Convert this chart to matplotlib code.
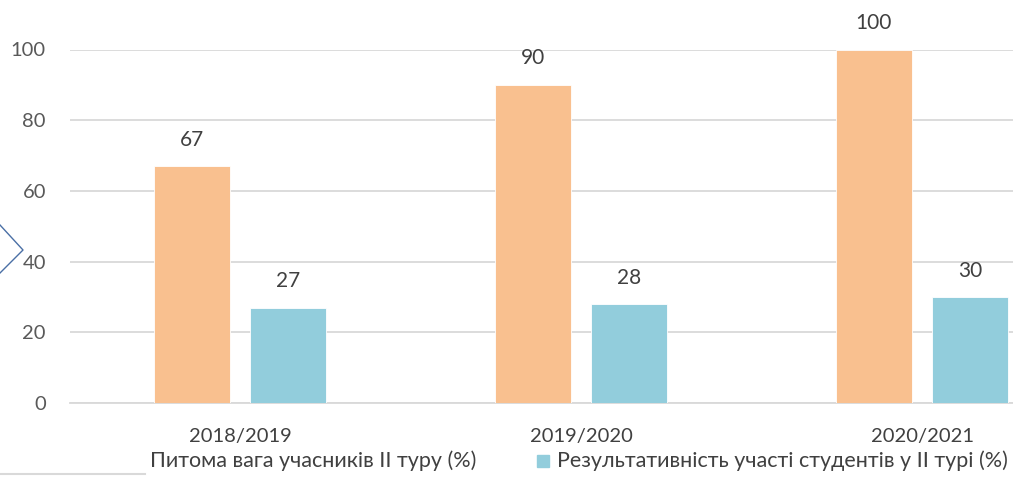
import numpy as np
import matplotlib
matplotlib.use("Agg")
import matplotlib.pyplot as plt
from matplotlib.lines import Line2D
from matplotlib.patches import Rectangle

years = ['2018/2019', '2019/2020', '2020/2021']
share = [67, 90, 100]
result = [27, 28, 30]
label_share = 'Питома вага учасників ІІ туру (%)'
label_result = 'Результативність участі студентів у ІІ турі (%)'

c_orange = '#F9C08F'
c_blue = '#92CDDC'
txt = '#404040'

plt.rcParams['font.family'] = ['Lato', 'DejaVu Sans']

W, H = 1013, 500
fig = plt.figure(figsize=(W / 100, H / 100), dpi=100)
# axes runs off the right edge like the cropped original
ax = fig.add_axes([69.5 / W, 97 / H, 3 * 341 / W, 353.5 / H])

x = np.arange(len(years))
w = 0.223
off = 0.141
b1 = ax.bar(x - off, share, w, color=c_orange, edgecolor='white', linewidth=0.6, zorder=3)
b2 = ax.bar(x + off, result, w, color=c_blue, edgecolor='white', linewidth=0.6, zorder=3)

for bars, vals in ((b1, share), (b2, result)):
    for r, v in zip(bars, vals):
        ax.annotate(str(v), (r.get_x() + r.get_width() / 2, v), xytext=(0, 19),
                    textcoords='offset points', ha='center', va='center',
                    fontsize=15, color=txt, annotation_clip=False)

ax.set_xlim(-0.5, 2.5)
ax.set_ylim(0, 100)
ax.set_yticks(range(0, 101, 20))
ax.set_xticks(x)
ax.set_xticklabels(years)
ax.yaxis.grid(True, color='#D9D9D9', linewidth=1.3, zorder=0)
for s in ('top', 'right', 'left'):
    ax.spines[s].set_visible(False)
ax.spines['bottom'].set_color('#D9D9D9')
ax.spines['bottom'].set_linewidth(1.3)
ax.tick_params(axis='y', length=0, pad=17, labelsize=14.5, labelcolor='#595959')
ax.tick_params(axis='x', length=0, pad=18, labelsize=14.5, labelcolor=txt)

# legend drawn by hand (first marker is missing in the original)
fig.text(150 / W, 1 - 461 / H, label_share, fontsize=15.5, color=txt, va='center', ha='left')
fig.add_artist(Rectangle((537 / W, 1 - 467 / H), 12 / W, 12 / H, color=c_blue,
                         transform=fig.transFigure))
fig.text(557 / W, 1 - 461 / H, label_result, fontsize=15.5, color=txt, va='center', ha='left')

# stray marks from the source screenshot
fig.add_artist(Line2D([0, 145 / W], [1 - 474 / H, 1 - 474 / H], color='#D9D9D9',
                      linewidth=1.5, transform=fig.transFigure))
fig.add_artist(Line2D([0, 23 / W, 0], [1 - 225 / H, 1 - 250 / H, 1 - 273 / H],
                      color='#4A6FA5', linewidth=1.0, transform=fig.transFigure))

fig.savefig('out.png', dpi=100)
